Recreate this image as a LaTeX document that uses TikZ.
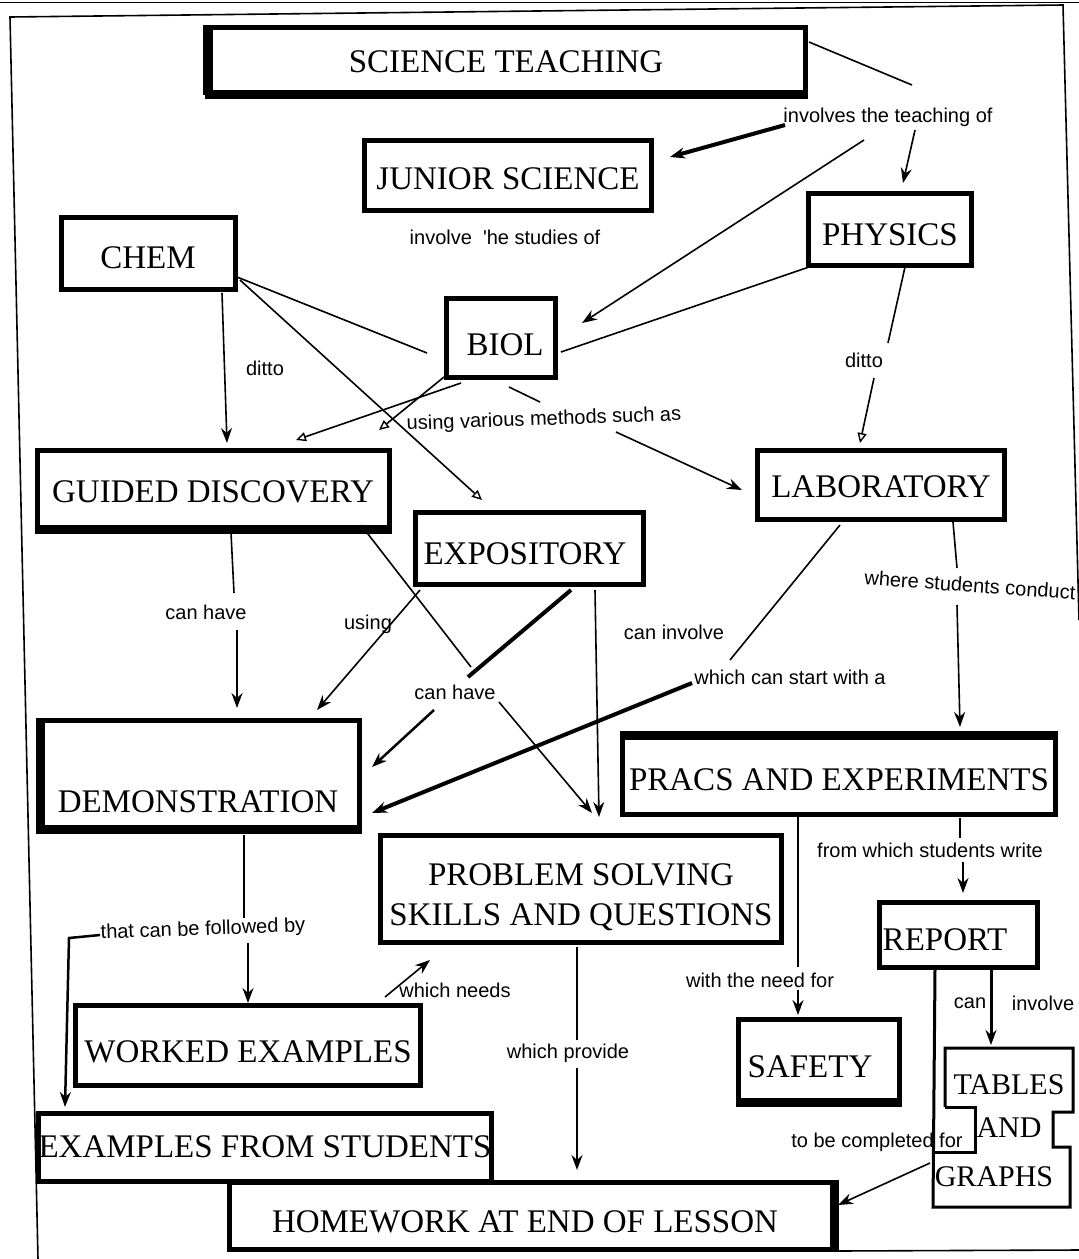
\documentclass[tikz,border=0pt]{standalone}
\usepackage{fontspec}
\setmainfont{Liberation Serif}
\newfontfamily\lblfont{Liberation Sans}
\usetikzlibrary{arrows.meta}
% lower a box's text by #1 while keeping the box centred
\newcommand\dropby[2]{\raisebox{0pt}[\dimexpr\height+#1+#1\relax][\depth]{#2}}

\begin{document}
\begin{tikzpicture}[x=1pt,y=-1pt,
  box/.style={draw, line width=5pt, inner sep=0pt, font=\fontsize{33}{40}\selectfont},
  smallbox/.style={inner sep=0pt, font=\fontsize{30}{36}\selectfont},
  lbl/.style={font=\lblfont\fontsize{20}{24}\selectfont, inner sep=1pt},
  link/.style={line width=1.6pt},
  thicklink/.style={line width=4pt},
  arr/.style={-{Stealth[length=15pt,width=11pt]}},
  openarr/.style={-{Triangle[open,length=10pt,width=9pt,line width=1.4pt]}},
  border/.style={line width=1.6pt}]
\useasboundingbox (0,0) rectangle (1079,1259);

% page frame
\draw[line width=0.8pt] (0,2) -- (1079,2);
\draw[border] (38,1259) -- (10,17) -- (1063,5) -- (1079,620);
\draw[border] (836,1251) -- (1079,1250);

% concept boxes
\node[box, minimum width=598pt, minimum height=65pt] (st) at (506,60) {\dropby{2pt}{SCIENCE TEACHING}};
\node[box, minimum width=287pt, minimum height=70pt] (js) at (508,175) {\dropby{4pt}{JUNIOR SCIENCE}};
\node[box, minimum width=163pt, minimum height=72pt] (phys) at (890,229) {\dropby{6pt}{PHYSICS}};
\node[box, minimum width=174pt, minimum height=72pt] (chem) at (148,253) {\dropby{5pt}{CHEM}};
\node[box, minimum width=109pt, minimum height=79pt] (biol) at (501,338) {\dropby{7pt}{\hspace*{8pt}BIOL}};
\node[box, minimum width=352pt, minimum height=77pt] (gd) at (213,489) {\dropby{3pt}{GUIDED DISCOVERY}};
\node[box, minimum width=247pt, minimum height=69pt] (lab) at (881,485) {\dropby{2pt}{LABORATORY}};
\node[box, minimum width=228pt, minimum height=72pt] (exp) at (529,548) {\dropby{6pt}{EXPOSITORY\hspace*{8pt}}};
\node[box, minimum width=317pt, minimum height=107pt] (demo) at (201,774) {\dropby{28pt}{DEMONSTRATION\hspace*{6pt}}};
\node[box, minimum width=433pt, minimum height=77pt] (pracs) at (839,776) {\dropby{4pt}{PRACS AND EXPERIMENTS}};
\node[box, minimum width=401pt, minimum height=107pt] (ps) at (581,889)
  {\dropby{8pt}{\begin{tabular}{@{}c@{}}PROBLEM SOLVING\\SKILLS AND QUESTIONS\end{tabular}}};
\node[box, minimum width=158pt, minimum height=65pt] (report) at (958,935) {\dropby{5pt}{REPORT\hspace*{26pt}}};
\node[box, minimum width=345pt, minimum height=80pt] (wex) at (248,1045) {\dropby{7pt}{WORKED EXAMPLES}};
\node[box, minimum width=161pt, minimum height=81pt] (safety) at (819,1060) {\dropby{7pt}{SAFETY\hspace*{18pt}}};
\node[box, minimum width=449pt, minimum height=68pt] (efs) at (265,1147) {EXAMPLES FROM STUDENTS};
\node[box, minimum width=603pt, minimum height=67pt] (hw) at (531,1216) {\dropby{6pt}{HOMEWORK AT END OF LESSON\hspace*{12pt}}};

% heavy photocopied edges
\draw[line width=10pt] ([xshift=3pt]st.north west) -- ([xshift=3pt]st.south west);
\draw[line width=8pt] (st.south west) -- (st.south east);
\draw[line width=8pt] (demo.north west) -- (demo.south west) -- (demo.south east);
\draw[line width=8pt] (gd.south west) -- (gd.south east);
\draw[line width=8pt] (pracs.north west) -- (pracs.north east);
\draw[line width=8pt] (safety.south west) -- (safety.south east);
\draw[line width=8pt] (hw.north east) -- (hw.south east);

% tables / and / graphs cluster
\node[smallbox, minimum width=128pt, minimum height=59pt] (tab) at (1009,1078) {\dropby{7pt}{TABLES}};
\node[smallbox] (andt) at (1009,1128) {AND};
\node[smallbox, minimum width=137pt, minimum height=55pt] (graphs) at (1001,1180) {\dropby{-3pt}{GRAPHS\hspace*{14pt}}};
\draw[line width=3pt, line join=miter]
  (945,1107) -- (945,1048) -- (1073,1048) -- (1073,1112) -- (1053,1112) -- (1053,1147)
  -- (1070,1147) -- (1070,1207) -- (933,1207) -- ([shift={(-23,35)}]report.center);
\draw[line width=3pt, line join=miter] (945,1107) -- (975,1107) -- (975,1152) -- (933,1152);

% linking phrases
\node[lbl] (inv) at (888,117) {involves the teaching of};
\node[lbl] (studies) at (505,237) {involve\ \ 'he studies of};
\node[lbl] (ditto1) at (265,368) {ditto};
\node[lbl] (ditto2) at (864,360) {ditto};
\node[lbl, rotate=2] (methods) at (544,420) {using various methods such as};
\node[lbl] (canhave1) at (206,612) {can have};
\node[lbl] (using) at (368,624) {using};
\node[lbl] (caninv) at (674,632) {can involve};
\node[lbl, rotate=-4] (conduct) at (970,585) {where students conduct};
\node[lbl] (canhave2) at (455,692) {can have};
\node[lbl] (start) at (790,677) {which can start with a};
\node[lbl] (write) at (930,850) {from which students write};
\node[lbl, rotate=2] (followed) at (203,930) {that can be followed by};
\node[lbl] (needs) at (455,990) {which needs};
\node[lbl] (needfor) at (760,980) {with the need for};
\node[lbl] (provide) at (568,1053) {which provide};
\node[lbl] (can) at (970,1003) {can};
\node[lbl] (involve) at (1043,1003) {involve};
\node[lbl] (completed) at (877,1142) {to be completed for};

% connectors
\draw[link] ([shift={(303,-18)}]st.center) -- ([shift={(24,-32)}]inv.center);
\draw[thicklink, arr] ([shift={(-103,8)}]inv.center) -- ([shift={(162,-18)}]js.center);
\draw[link, arr] ([shift={(-24,23)}]inv.center) -- ([shift={(81,-15)}]biol.center);
\draw[link, arr] ([shift={(27,13)}]inv.center) -- ([shift={(13,-46)}]phys.center);
\draw[link] ([shift={(89,24)}]chem.center) -- ([shift={(-74,15)}]biol.center);
\draw[link, openarr] ([shift={(92,27)}]chem.center) -- ([shift={(-47,-48)}]exp.center);
\draw[link, arr] ([shift={(74,40)}]chem.center) -- ([shift={(14,-46)}]gd.center);
\draw[link] ([shift={(-81,38)}]phys.center) -- ([shift={(60,14)}]biol.center);
\draw[link] ([shift={(15,38)}]phys.center) -- ([shift={(24,-17)}]ditto2.center);
\draw[link, openarr] ([shift={(10,18)}]ditto2.center) -- ([shift={(-21,-42)}]lab.center);
\draw[link, openarr] ([shift={(-40,45)}]biol.center) -- ([shift={(83,-49)}]gd.center);
\draw[link, openarr] ([shift={(-57,39)}]biol.center) -- ([shift={(166,-59)}]gd.center);
\draw[link] ([shift={(8,49)}]biol.center) -- ([shift={(-4,-18)}]methods.center);
\draw[link, arr] ([shift={(72,12)}]methods.center) -- ([shift={(-139,5)}]lab.center);
\draw[link] ([shift={(18,44)}]gd.center) -- ([shift={(28,-19)}]canhave1.center);
\draw[link, arr] ([shift={(31,18)}]canhave1.center) -- ([shift={(36,-66)}]demo.center);
\draw[link] ([shift={(148,36)}]gd.center) -- ([shift={(16,-25)}]canhave2.center);
\draw[link, arr] ([shift={(44,10)}]canhave2.center) -- ([shift={(11,-76)}]ps.center);
\draw[link, arr] ([shift={(-109,42)}]exp.center) -- ([shift={(116,-64)}]demo.center);
\draw[thicklink] ([shift={(42,42)}]exp.center) -- ([shift={(13,-15)}]canhave2.center);
\draw[line width=2.5pt, arr] ([shift={(-21,18)}]canhave2.center) -- ([shift={(171,-7)}]demo.center);
\draw[link, arr] ([shift={(66,42)}]exp.center) -- ([shift={(18,-72)}]ps.center);
\draw[link] ([shift={(-41,40)}]lab.center) -- ([shift={(-60,-17)}]start.center);
\draw[thicklink, arr] ([shift={(-98,6)}]start.center) -- ([shift={(171,39)}]demo.center);
\draw[link] ([shift={(72,37)}]lab.center) -- ([shift={(-13,-17)}]conduct.center);
\draw[link, arr] ([shift={(-13,20)}]conduct.center) -- ([shift={(121,-49)}]pracs.center);
\draw[link] ([shift={(121,42)}]pracs.center) -- ([shift={(30,-12)}]write.center);
\draw[link, arr] ([shift={(33,12)}]write.center) -- ([shift={(5,-42)}]report.center);
\draw[link] ([shift={(-41,41)}]pracs.center) -- ([shift={(38,-13)}]needfor.center);
\draw[link, arr] ([shift={(38,10)}]needfor.center) -- ([shift={(-21,-45)}]safety.center);
\draw[link] ([shift={(43,61)}]demo.center) -- ([shift={(41,-12)}]followed.center);
\draw[link, arr] ([shift={(45,13)}]followed.center) -- ([shift={(0,-42)}]wex.center);
\draw[line width=2.5pt, arr] ([shift={(-103,5)}]followed.center) -- ++(-31,3) -- ([shift={(-200,-40)}]efs.center);
\draw[link, arr] ([shift={(137,-48)}]wex.center) -- ([shift={(-151,71)}]ps.center);
\draw[link] ([shift={(-4,58)}]ps.center) -- ([shift={(9,-13)}]provide.center);
\draw[link, arr] ([shift={(9,15)}]provide.center) -- ([shift={(46,-46)}]hw.center);
\draw[line width=3pt, arr] ([shift={(33,35)}]report.center) -- ([shift={(-18,-33)}]tab.center);
\draw[link, arr] ([shift={(-71,-17)}]graphs.center) -- ([shift={(307,-11)}]hw.center);
\end{tikzpicture}
\end{document}
